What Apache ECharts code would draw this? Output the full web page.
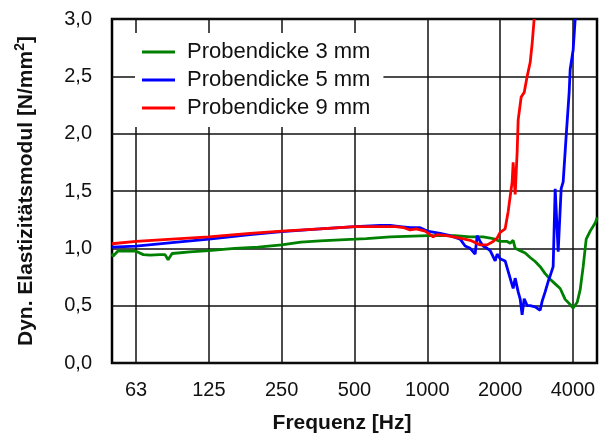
<!DOCTYPE html>
<html>
<head>
<meta charset="utf-8">
<script src="https://cdn.jsdelivr.net/npm/echarts@6/dist/echarts.min.js"></script>
<style>
  body { margin: 0; background: #fff; }
  #chart { width: 600px; height: 439px; }
</style>
</head>
<body>
<div id="chart"></div>
<script>
// Frequenz [Hz] und dyn. Elastizitätsmodul [N/mm²] je Probendicke
const freq3 = [49.7, 50.2, 52.5, 56, 62.5, 67, 71.4, 78.5, 82.4, 84.8, 88.1, 104.5, 125, 160, 200, 250, 300, 360, 503, 560, 702, 1008, 1300, 1503, 1700, 1819, 1900, 2000, 2138, 2199, 2263, 2307, 2419, 2538, 2661, 2791, 2927, 3069, 3219, 3376, 3541, 3713, 3894, 4006, 4164, 4284, 4407, 4536, 4711, 4940, 5036]
const mod3 = [0.955, 0.93, 0.975, 0.975, 0.975, 0.945, 0.94, 0.945, 0.945, 0.90, 0.955, 0.97, 0.98, 1.0, 1.01, 1.03, 1.055, 1.065, 1.08, 1.085, 1.10, 1.11, 1.11, 1.10, 1.10, 1.09, 1.08, 1.06, 1.06, 1.045, 1.07, 1.0, 0.98, 0.96, 0.92, 0.885, 0.84, 0.78, 0.73, 0.69, 0.65, 0.555, 0.51, 0.48, 0.53, 0.64, 0.84, 1.08, 1.15, 1.22, 1.27]

const freq5 = [49.7, 62.5, 88, 125, 185, 250, 360, 503, 638, 702, 772, 850, 934, 979, 1027, 1130, 1242, 1367, 1433, 1503, 1576, 1607, 1653, 1701, 1767, 1819, 1907, 1944, 2000, 2097, 2199, 2263, 2307, 2374, 2419, 2465, 2514, 2586, 2661, 2791, 2927, 2983, 3069, 3158, 3219, 3312, 3376, 3474, 3574, 3643, 3749, 3857, 3894, 4006, 4085]
const mod5 = [1.01, 1.02, 1.05, 1.08, 1.12, 1.145, 1.17, 1.19, 1.20, 1.20, 1.19, 1.18, 1.18, 1.16, 1.145, 1.13, 1.11, 1.08, 1.02, 1.0, 0.95, 1.11, 1.06, 1.02, 1.0, 0.98, 0.89, 0.95, 0.91, 0.89, 0.74, 0.65, 0.74, 0.62, 0.56, 0.42, 0.56, 0.50, 0.50, 0.49, 0.46, 0.54, 0.62, 0.71, 0.76, 0.84, 1.52, 0.97, 1.52, 1.58, 1.98, 2.36, 2.56, 2.73, 3.0]

const freq9 = [49.7, 62.5, 88, 125, 185, 250, 360, 503, 736, 800, 849, 900, 934, 979, 1027, 1057, 1100, 1200, 1367, 1503, 1653, 1767, 1871, 1944, 2000, 2097, 2158, 2199, 2242, 2263, 2307, 2351, 2374, 2443, 2514, 2586, 2661, 2713, 2764]
const mod9 = [1.04, 1.06, 1.08, 1.10, 1.13, 1.15, 1.17, 1.19, 1.19, 1.18, 1.16, 1.17, 1.16, 1.15, 1.12, 1.10, 1.12, 1.11, 1.09, 1.07, 1.03, 1.03, 1.06, 1.09, 1.14, 1.17, 1.32, 1.45, 1.58, 1.75, 1.47, 1.84, 2.12, 2.32, 2.36, 2.50, 2.62, 2.79, 3.0]

const tickFreq = [62.5, 125, 250, 500, 1000, 2000, 4000]
const tickLabels = ['63', '125', '250', '500', '1000', '2000', '4000']

const FONT = 'Liberation Sans, Arial, sans-serif'
const lg = Math.log2
const tickPos = tickFreq.map(f => lg(f))

function pairs(fs, vs) {
  return fs.map((f, i) => [lg(f), vs[i]])
}

const chart = echarts.init(document.getElementById('chart'))
chart.setOption({
  animation: false,
  grid: {
    left: 112, right: 3, top: 19, bottom: 74,
    show: true, borderColor: '#000', borderWidth: 2.5
  },
  legend: {
    orient: 'vertical',
    left: 135, top: 33,
    backgroundColor: '#fff',
    padding: [8, 13, 8, 7],
    itemWidth: 33, itemHeight: 3, itemGap: 6,
    icon: 'rect',
    textStyle: { fontFamily: FONT, fontSize: 22, color: '#111', padding: [0, 0, 0, 7] },
    data: ['Probendicke 3 mm', 'Probendicke 5 mm', 'Probendicke 9 mm']
  },
  xAxis: {
    type: 'value',
    min: lg(62.5) - 24 / 72.8,
    max: lg(4000) + 24 / 72.8,
    name: 'Frequenz [Hz]',
    nameLocation: 'middle',
    nameGap: 50,
    nameTextStyle: { fontFamily: FONT, fontSize: 21, fontWeight: 'bold', color: '#111', padding: [0, 25, 0, 0] },
    axisLine: { show: false },
    axisTick: { show: false, customValues: tickPos },
    axisLabel: {
      customValues: tickPos,
      margin: 17,
      fontFamily: FONT, fontSize: 20, color: '#111',
      formatter: v => {
        let best = 0
        tickPos.forEach((p, i) => { if (Math.abs(p - v) < Math.abs(tickPos[best] - v)) best = i })
        return tickLabels[best]
      }
    },
    splitLine: { show: true, lineStyle: { color: '#111', width: 1.5 } }
  },
  yAxis: {
    type: 'value',
    min: 0, max: 3, interval: 0.5,
    name: 'Dyn. Elastizitätsmodul [N/mm{sup|2}]',
    nameLocation: 'middle',
    nameGap: 73,
    nameTextStyle: {
      fontFamily: FONT, fontSize: 21, fontWeight: 'bold', color: '#111',
      rich: { sup: { fontFamily: FONT, fontSize: 14, fontWeight: 'bold', color: '#111', padding: [0, 0, 12, 0] } }
    },
    axisLine: { show: false },
    axisTick: { show: false },
    axisLabel: {
      margin: 20,
      fontFamily: FONT, fontSize: 20, color: '#111',
      formatter: v => v.toFixed(1).replace('.', ',')
    },
    splitLine: { show: true, lineStyle: { color: '#111', width: 1.5 } }
  },
  series: [
    {
      name: 'Probendicke 3 mm', type: 'line', showSymbol: false,
      data: pairs(freq3, mod3),
      itemStyle: { color: '#008000' },
      lineStyle: { color: '#008000', width: 2.8 }
    },
    {
      name: 'Probendicke 5 mm', type: 'line', showSymbol: false,
      data: pairs(freq5, mod5),
      itemStyle: { color: '#0000ff' },
      lineStyle: { color: '#0000ff', width: 2.8 }
    },
    {
      name: 'Probendicke 9 mm', type: 'line', showSymbol: false,
      data: pairs(freq9, mod9),
      itemStyle: { color: '#ff0000' },
      lineStyle: { color: '#ff0000', width: 2.8 }
    }
  ]
})
</script>
</body>
</html>
